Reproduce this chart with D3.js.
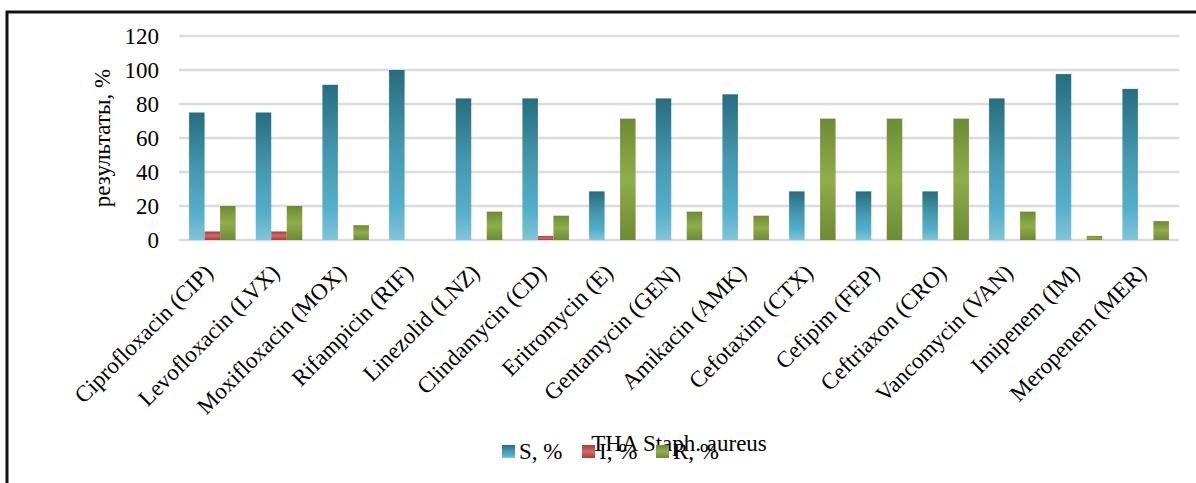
<!DOCTYPE html>
<html>
<head>
<meta charset="utf-8">
<script src="https://cdn.jsdelivr.net/npm/d3@7"></script>
<style>
	html, body { margin: 0; padding: 0; background: #fff; }
	svg { display: block; }
	text { font-family: 'Liberation Serif', 'Times New Roman', serif; fill: #000; }
</style>
</head>
<body>
<svg id="chart" width="1196" height="483"></svg>
<script>
const categories = [
	'Ciprofloxacin (CIP)', 'Levofloxacin (LVX)', 'Moxifloxacin (MOX)', 'Rifampicin (RIF)',
	'Linezolid (LNZ)', 'Clindamycin (CD)', 'Eritromycin (E)', 'Gentamycin (GEN)',
	'Amikacin (AMK)', 'Cefotaxim (CTX)', 'Cefipim (FEP)', 'Ceftriaxon (CRO)',
	'Vancomycin (VAN)', 'Imipenem (IM)', 'Meropenem (MER)',
];
const seriesNames = ['S, %', 'I, %', 'R, %'];
const valuesS = [75, 75, 91.3, 100, 83.3, 83.3, 28.6, 83.3, 85.7, 28.6, 28.6, 28.6, 83.3, 97.6, 88.9];
const valuesI = [5, 5, 0, 0, 0, 2.4, 0, 0, 0, 0, 0, 0, 0, 0, 0];
const valuesR = [20, 20, 8.7, 0, 16.7, 14.3, 71.4, 16.7, 14.3, 71.4, 71.4, 71.4, 16.7, 2.4, 11.1];
const yTicks = [0, 20, 40, 60, 80, 100, 120];
const yTitle = 'результаты, %';
const xTitle = 'THA Staph. aureus';

const svg = d3.select('#chart');
const margin = { top: 36, left: 179, right: 17 };
const width = 1196 - margin.left - margin.right;
const plotHeight = 204;

// gradients
const defs = svg.append('defs');
const grad = (id, stops) => {
	const g = defs.append('linearGradient')
		.attr('id', id)
		.attr('x1', 0).attr('y1', 0).attr('x2', 0).attr('y2', 1);
	stops.forEach(([o, c]) => g.append('stop').attr('offset', o).attr('stop-color', c));
};
grad('gS', [[0, '#276d7f'], [0.45, '#4598b0'], [0.8, '#55b0cb'], [1, '#80c5d8']]);
grad('gI', [[0, '#a53c3a'], [0.5, '#d06a68'], [1, '#a53c3a']]);
grad('gR', [[0, '#6e8a36'], [0.5, '#8fad4a'], [1, '#6e8a36']]);
const fills = ['url(#gS)', 'url(#gI)', 'url(#gR)'];

// outer frame (only left/top edges visible)
svg.append('rect')
	.attr('x', 7).attr('y', 12)
	.attr('width', 1300).attr('height', 600)
	.attr('fill', 'none')
	.attr('stroke', '#111')
	.attr('stroke-width', 3);

const g = svg.append('g').attr('transform', `translate(${ margin.left }, ${ margin.top })`);

const x = d3.scaleBand().domain(categories).range([0, width]);
const bw = x.bandwidth() / 4.3;
const xs = d3.scaleBand().domain(seriesNames).range([0, bw * 3]);
const y = d3.scaleLinear().domain([0, 120]).range([plotHeight, 0]);

// grid
g.append('g')
	.selectAll('line')
	.data(yTicks)
	.join('line')
		.attr('x1', 0).attr('x2', width)
		.attr('y1', d => y(d)).attr('y2', d => y(d))
		.attr('stroke', '#dcdcdc')
		.attr('stroke-width', 2.5);

// y axis labels
const yAxis = g.append('g')
	.call(d3.axisLeft(y).tickValues(yTicks).tickSize(0).tickPadding(20));
yAxis.select('.domain').remove();
yAxis.selectAll('text')
	.attr('font-size', 23)
	.attr('font-family', 'Liberation Serif, Times New Roman, serif')
	.attr('fill', '#000');

// bars
const data = categories.map((c, i) => ({ c, v: [valuesS[i], valuesI[i], valuesR[i]] }));
const groups = g.append('g')
	.selectAll('g')
	.data(data)
	.join('g')
		.attr('transform', d => `translate(${ x(d.c) + (x.bandwidth() - bw * 3) / 2 }, 0)`);
groups.selectAll('rect')
	.data(d => d.v.map((v, k) => ({ v, k })))
	.join('rect')
		.attr('x', d => xs(seriesNames[d.k]))
		.attr('width', xs.bandwidth())
		.attr('y', d => y(d.v))
		.attr('height', d => y(0) - y(d.v))
		.attr('fill', d => fills[d.k]);

// category labels
g.append('g')
	.selectAll('text')
	.data(categories)
	.join('text')
		.attr('transform', d => `translate(${ x(d) + x.bandwidth() / 2 + 2 }, ${ y(0) + 34 }) rotate(-45)`)
		.attr('text-anchor', 'end')
		.attr('font-size', 23)
		.text(d => d);

// y title
svg.append('text')
	.attr('transform', 'translate(110, 138) rotate(-90)')
	.attr('text-anchor', 'middle')
	.attr('font-size', 23)
	.text(yTitle);

// x title
svg.append('text')
	.attr('x', margin.left + width / 2)
	.attr('y', 451)
	.attr('text-anchor', 'middle')
	.attr('font-size', 23)
	.text(xTitle);

// legend
const legendX = [502, 582, 656];
const legend = svg.append('g')
	.selectAll('g')
	.data(seriesNames)
	.join('g')
		.attr('transform', (d, i) => `translate(${ legendX[i] }, 445)`);
legend.append('rect')
	.attr('width', 13).attr('height', 13)
	.attr('fill', (d, i) => fills[i]);
legend.append('text')
	.attr('x', 17).attr('y', 14)
	.attr('font-size', 23)
	.text(d => d);
</script>
</body>
</html>
